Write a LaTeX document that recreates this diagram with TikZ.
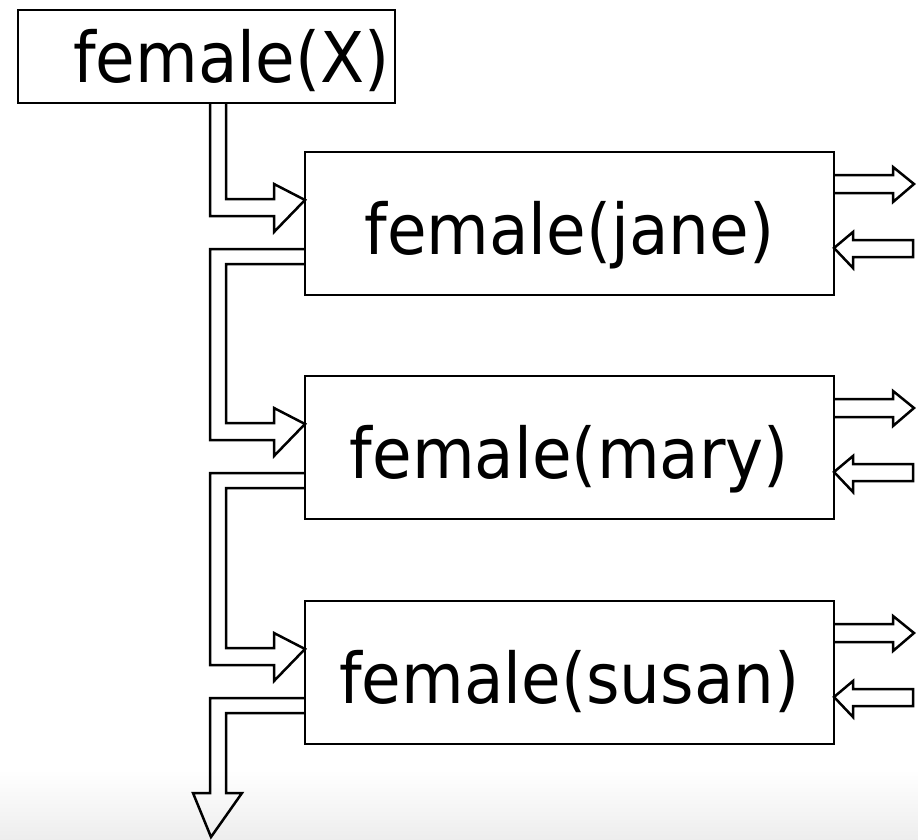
\documentclass[tikz,border=0pt]{standalone}
\usepackage{fontspec}
\setmainfont{DejaVu Sans}[FakeStretch=0.92]
\usetikzlibrary{calc}
\begin{document}
\begin{tikzpicture}[x=1pt,y=-1pt,
  goalbox/.style={draw, line width=2.5pt, rectangle, inner sep=0pt, outer sep=0pt,
    minimum width=377pt, minimum height=93pt, anchor=north west},
  clause/.style={draw, line width=2.5pt, rectangle, inner sep=0pt, outer sep=0pt,
    minimum width=529pt, minimum height=143pt, anchor=north west,
    font=\fontsize{70}{84}\selectfont, text height=61pt, text depth=0pt},
  lbl/.style={inner sep=0pt, font=\fontsize{70}{84}\selectfont},
  pipe/.style={line width=2.5pt, line join=miter}]
\useasboundingbox (0,0) rectangle (918,840);
% soft floor shadow along the lower edge
\shade[top color=white, bottom color=black!7] (0,770) rectangle (918,840);

% goal and the three clauses it is matched against
\node[goalbox] (goal) at (18,10) {};
\node[lbl, anchor=base] (goaltxt) at (231.5,83) {female(X)};
\node[clause] (c1) at (305,152) {female(jane)};
\node[clause] (c2) at (305,376) {female(mary)};
\node[clause] (c3) at (305,601) {female(susan)};

% the two rails of the left-hand control flow
\coordinate (spineO) at (210,0);
\coordinate (spineI) at (226,0);

% key points of each entry arrow and each return pipe
\foreach \n in {1,2,3}{
  \path (c\n.north west) ++(0,48) coordinate (tip\n)
        ++(-31,-16) coordinate (hu\n)
        ++(0,15) coordinate (su\n)
        ++(0,17) coordinate (sl\n)
        ++(0,16) coordinate (hl\n);
  \path (c\n.north west) ++(0,97) coordinate (ro\n) ++(0,15) coordinate (ri\n);
}

% goal -> first clause
\draw[pipe] (spineO |- goal.south) -- (spineO |- sl1) -- (sl1) -- (hl1) -- (tip1)
  -- (hu1) -- (su1) -- (spineI |- su1) -- (spineI |- goal.south);
% backtracking into the next clause
\draw[pipe] (ro1) -- (spineO |- ro1) -- (spineO |- sl2) -- (sl2) -- (hl2) -- (tip2)
  -- (hu2) -- (su2) -- (spineI |- su2) -- (spineI |- ri1) -- (ri1);
\draw[pipe] (ro2) -- (spineO |- ro2) -- (spineO |- sl3) -- (sl3) -- (hl3) -- (tip3)
  -- (hu3) -- (su3) -- (spineI |- su3) -- (spineI |- ri2) -- (ri2);
% failure exit at the bottom
\coordinate (exitO) at (210,793);
\coordinate (exitI) at (226,793);
\coordinate (exit) at (211,837);
\draw[pipe] (ro3) -- (spineO |- ro3) -- (exitO) -- ++(-17,0) -- (exit)
  -- (242,793) -- (exitI) -- (spineI |- ri3) -- (ri3);

% success exit and redo entry on the right of each clause
\foreach \n in {1,2,3}{
  \draw[pipe] ($(c\n.north east)+(0,23)$) -- ++(59,0) -- ++(0,-8) -- ++(21,17)
    -- ++(-21,18) -- ++(0,-9) -- ++(-59,0);
  \draw[pipe] ($(c\n.north east)+(0,96)$) -- ++(19,-16) -- ++(0,8) -- ++(60,0)
    -- ++(0,17) -- ++(-60,0) -- ++(0,11) -- cycle;
}
\end{tikzpicture}
\end{document}
